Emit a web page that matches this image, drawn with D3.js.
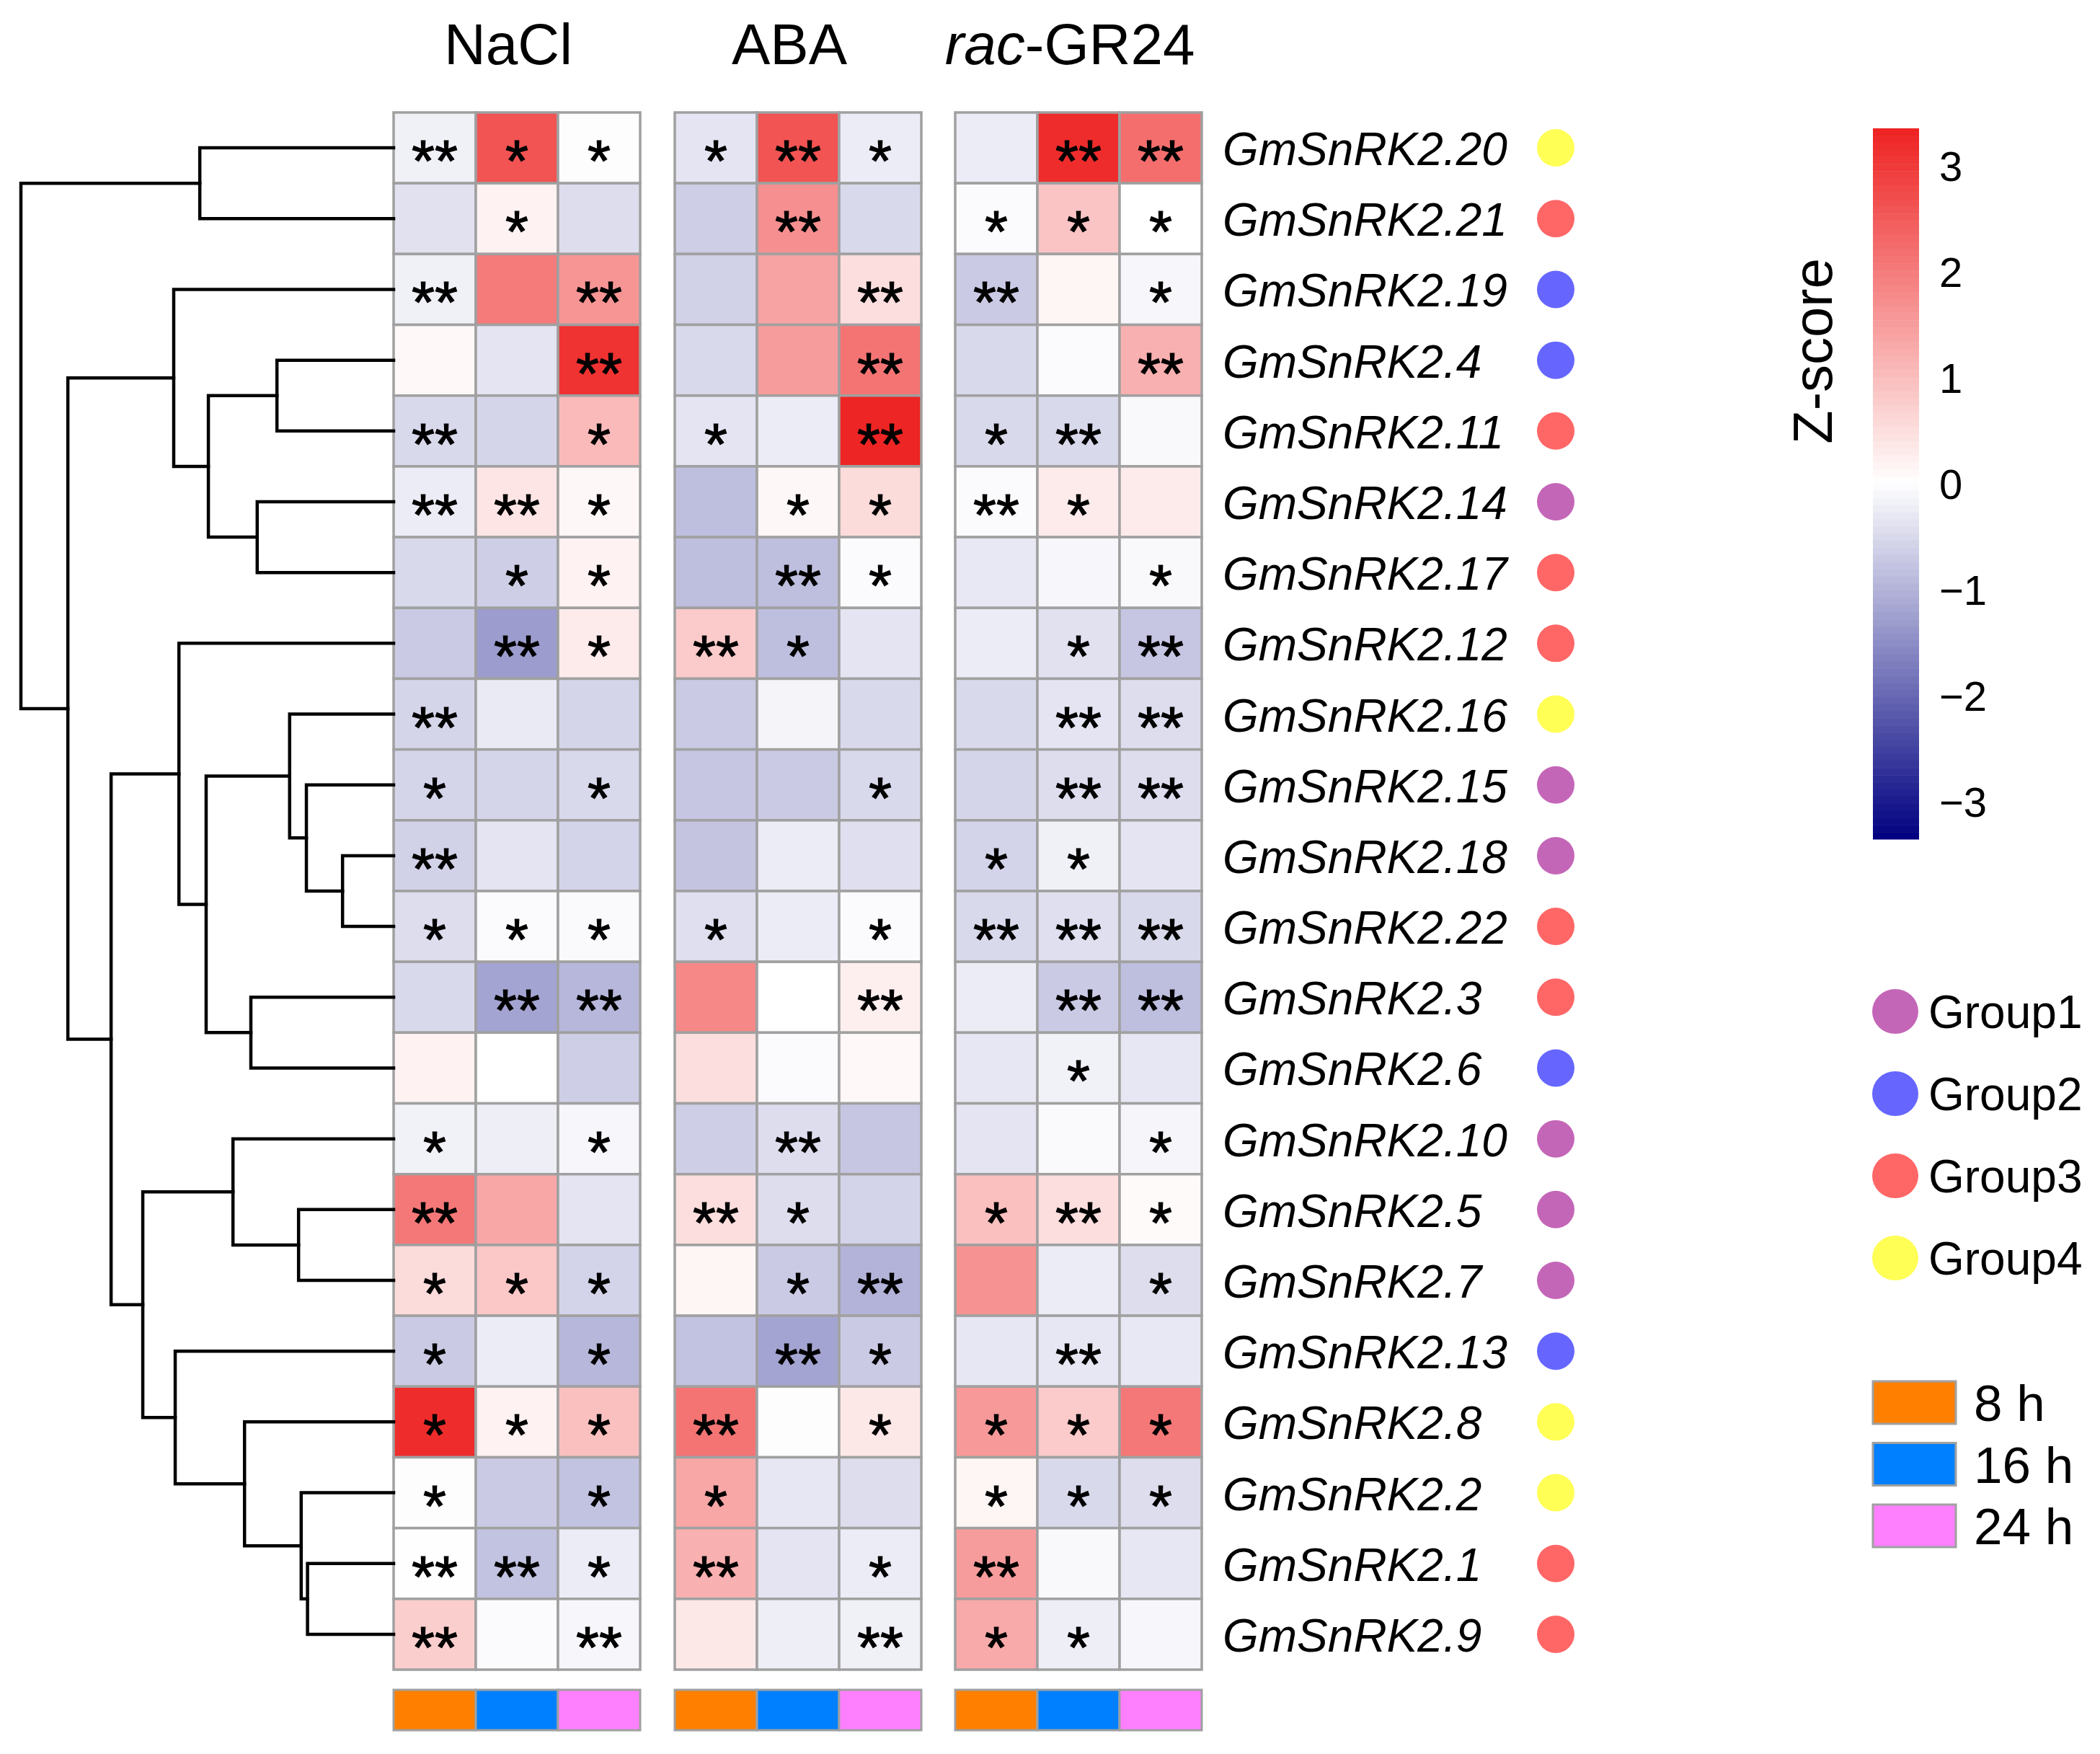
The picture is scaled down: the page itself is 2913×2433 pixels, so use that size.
<!DOCTYPE html>
<html>
<meta charset="utf-8">
<head>
  <title>GmSnRK2 heatmap</title>
  <script src="https://d3js.org/d3.v7.min.js"></script>
  <style>
    body { margin: 0; background: #fff; }
    text { font-family: "Liberation Sans", Arial, Helvetica, sans-serif; }
  </style>
</head>
<body>
<div id="my_dataviz"></div>

<script>

// genes, top to bottom
var genes = ["GmSnRK2.20","GmSnRK2.21","GmSnRK2.19","GmSnRK2.4","GmSnRK2.11","GmSnRK2.14",
  "GmSnRK2.17","GmSnRK2.12","GmSnRK2.16","GmSnRK2.15","GmSnRK2.18","GmSnRK2.22","GmSnRK2.3",
  "GmSnRK2.6","GmSnRK2.10","GmSnRK2.5","GmSnRK2.7","GmSnRK2.13","GmSnRK2.8","GmSnRK2.2",
  "GmSnRK2.1","GmSnRK2.9"];

var treatments = ["NaCl", "ABA", "rac-GR24"];
var times = ["8 h", "16 h", "24 h"];
var timeColors = ["#FF8000", "#0080FF", "#FF80FF"];

// z-scores, one row per gene: 8 h, 16 h, 24 h
var zNaCl = [
  [-0.2, 2.6, -0.02], [-0.4, 0.2, -0.45], [-0.2, 2.0, 1.6], [0.1, -0.35, 3.1],
  [-0.5, -0.55, 1.05], [-0.25, 0.4, 0.12], [-0.5, -0.65, 0.2], [-0.7, -1.3, 0.3],
  [-0.55, -0.28, -0.55], [-0.55, -0.55, -0.5], [-0.6, -0.35, -0.58], [-0.45, -0.05, -0.06],
  [-0.5, -1.2, -0.95], [0.2, 0, -0.65], [-0.18, -0.22, -0.1], [2.05, 1.35, -0.35],
  [0.55, 0.85, -0.58], [-0.7, -0.25, -0.95], [3.2, 0.2, 0.95], [-0.03, -0.7, -0.8],
  [0.02, -0.8, -0.25], [0.75, -0.05, -0.1]
];
var zABA = [
  [-0.35, 2.6, -0.25], [-0.65, 1.7, -0.5], [-0.6, 1.4, 0.5], [-0.5, 1.5, 2.1],
  [-0.35, -0.25, 3.3], [-0.85, 0.12, 0.55], [-0.85, -0.85, -0.05], [0.8, -0.85, -0.35],
  [-0.7, -0.15, -0.5], [-0.75, -0.7, -0.5], [-0.78, -0.25, -0.42], [-0.42, -0.25, -0.05],
  [1.8, 0, 0.25], [0.5, -0.05, 0.1], [-0.65, -0.45, -0.75], [0.5, -0.45, -0.58],
  [0.15, -0.7, -1.0], [-0.8, -1.2, -0.7], [2.1, -0.02, 0.35], [1.35, -0.32, -0.45],
  [1.2, -0.35, -0.25], [0.35, -0.22, -0.2]
];
var zGR24 = [
  [-0.25, 3.2, 2.2], [-0.05, 0.9, 0], [-0.7, 0.15, -0.1], [-0.5, -0.05, 1.2],
  [-0.5, -0.5, -0.08], [-0.05, 0.3, 0.3], [-0.3, -0.1, -0.08], [-0.25, -0.4, -0.75],
  [-0.5, -0.35, -0.45], [-0.55, -0.45, -0.45], [-0.58, -0.2, -0.35], [-0.5, -0.42, -0.5],
  [-0.25, -0.7, -0.85], [-0.32, -0.18, -0.32], [-0.35, -0.06, -0.12], [0.95, 0.5, 0.08],
  [1.65, -0.25, -0.45], [-0.32, -0.32, -0.3], [1.55, 0.8, 2.05], [0.15, -0.5, -0.45],
  [1.5, -0.08, -0.32], [1.3, -0.22, -0.1]
];

// significance marks
var sigNaCl = [
  ["**","*","*"], ["","*",""], ["**","","**"], ["","","**"], ["**","","*"], ["**","**","*"],
  ["","*","*"], ["","**","*"], ["**","",""], ["*","","*"], ["**","",""], ["*","*","*"],
  ["","**","**"], ["","",""], ["*","","*"], ["**","",""], ["*","*","*"], ["*","","*"],
  ["*","*","*"], ["*","","*"], ["**","**","*"], ["**","","**"]
];
var sigABA = [
  ["*","**","*"], ["","**",""], ["","","**"], ["","","**"], ["*","","**"], ["","*","*"],
  ["","**","*"], ["**","*",""], ["","",""], ["","","*"], ["","",""], ["*","","*"],
  ["","","**"], ["","",""], ["","**",""], ["**","*",""], ["","*","**"], ["","**","*"],
  ["**","","*"], ["*","",""], ["**","","*"], ["","","**"]
];
var sigGR24 = [
  ["","**","**"], ["*","*","*"], ["**","","*"], ["","","**"], ["*","**",""], ["**","*",""],
  ["","","*"], ["","*","**"], ["","**","**"], ["","**","**"], ["*","*",""], ["**","**","**"],
  ["","**","**"], ["","*",""], ["","","*"], ["*","**","*"], ["","","*"], ["","**",""],
  ["*","*","*"], ["*","*","*"], ["**","",""], ["*","*",""]
];

// group of each gene (1-4)
var geneGroup = [4,3,2,2,3,1,3,3,4,1,1,3,3,2,1,1,1,2,4,4,3,3];
var groupNames = ["Group1", "Group2", "Group3", "Group4"];
var groupColors = ["#C466B8", "#6666FF", "#FF6666", "#FFFF55"];

// row clustering, hclust style: negative = leaf (1-based row), positive = earlier merge
var merges = [
  [-1, -2, 5.20], [-4, -5, 3.13], [-6, -7, 3.66], [2, 3, 4.97], [-3, 4, 5.90],
  [-11, -12, 1.37], [-10, 6, 2.34], [-9, 7, 2.79], [-13, -14, 3.83], [8, 9, 5.03],
  [-8, 10, 5.76], [-16, -17, 2.55], [-15, 12, 4.31], [-21, -22, 2.31], [-20, 14, 2.48],
  [-19, 15, 4.00], [-18, 16, 5.86], [13, 17, 6.73], [11, 18, 7.58], [5, 19, 8.74],
  [1, 20, 10.0]
];

var colorTicks = [3, 2, 1, 0, -1, -2, -3];
var zMax = 3.35;

// ---------------- layout ----------------
var W = 2913, H = 2433;
var svg = d3.select("#my_dataviz").append("svg")
    .attr("width", W)
    .attr("height", H);

var blockX = [546, 936, 1325];
var blockW = 342;
var rowTop = 156, rowBottom = 2316;

var color = d3.scaleLinear()
    .domain([-zMax, 0, zMax])
    .range(["#000080", "#FFFFFF", "#EE2222"])
    .clamp(true);

var y = d3.scaleBand()
    .domain(d3.range(genes.length))
    .range([rowTop, rowBottom]);

var x = d3.scaleBand()
    .domain(d3.range(3))
    .range([0, blockW]);

var zData = [zNaCl, zABA, zGR24];
var sigData = [sigNaCl, sigABA, sigGR24];

// heatmap blocks
treatments.forEach(function(t, b) {
  var g = svg.append("g").attr("transform", "translate(" + blockX[b] + ",0)");

  var cells = [];
  zData[b].forEach(function(row, i) {
    row.forEach(function(v, j) { cells.push({i: i, j: j, v: v, s: sigData[b][i][j]}); });
  });

  g.selectAll("rect.cell")
    .data(cells)
    .enter().append("rect")
      .attr("class", "cell")
      .attr("x", function(d) { return x(d.j); })
      .attr("y", function(d) { return y(d.i); })
      .attr("width", x.bandwidth())
      .attr("height", y.bandwidth())
      .style("fill", function(d) { return color(d.v); })
      .style("stroke", "#A0A0A0")
      .style("stroke-width", 3.5);

  g.selectAll("text.sig")
    .data(cells.filter(function(d) { return d.s != ""; }))
    .enter().append("text")
      .attr("class", "sig")
      .attr("x", function(d) { return x(d.j) + x.bandwidth() / 2; })
      .attr("y", function(d) { return y(d.i) + y.bandwidth() / 2 + 46; })
      .attr("text-anchor", "middle")
      .style("font-size", "82px")
      .style("stroke", "#000")
      .style("stroke-width", 1.2)
      .text(function(d) { return d.s; });

  // time annotation bar
  g.selectAll("rect.time")
    .data(times)
    .enter().append("rect")
      .attr("class", "time")
      .attr("x", function(d, j) { return x(j); })
      .attr("y", 2344)
      .attr("width", x.bandwidth())
      .attr("height", 56)
      .style("fill", function(d, j) { return timeColors[j]; })
      .style("stroke", "#A0A0A0")
      .style("stroke-width", 3);

  // header
  var head = g.append("text")
    .attr("x", blockW / 2 - 12)
    .attr("y", 89)
    .attr("text-anchor", "middle")
    .style("font-size", "80px");
  if (t == "rac-GR24") {
    head.append("tspan").style("font-style", "italic").text("rac");
    head.append("tspan").text("-GR24");
  } else {
    head.text(t);
  }
});

// gene labels and group dots
svg.append("g").selectAll("text")
  .data(genes)
  .enter().append("text")
    .attr("x", 1696)
    .attr("y", function(d, i) { return y(i) + y.bandwidth() / 2 + 24; })
    .style("font-size", "64px")
    .style("font-style", "italic")
    .text(function(d) { return d; });

svg.append("g").selectAll("circle")
  .data(geneGroup)
  .enter().append("circle")
    .attr("cx", 2158)
    .attr("cy", function(d, i) { return y(i) + y.bandwidth() / 2; })
    .attr("r", 26)
    .style("fill", function(d) { return groupColors[d - 1]; });

// ---------------- dendrogram ----------------
function buildNode(k) {
  if (k < 0) return {leaf: -k - 1, h: 0};
  var m = merges[k - 1];
  return {h: m[2], children: [buildNode(m[0]), buildNode(m[1])]};
}
var root = d3.hierarchy(buildNode(merges.length));

var dx = d3.scaleLinear().domain([0, 10]).range([blockX[0], 29]);

root.eachAfter(function(n) {
  if (n.children) n.py = (n.children[0].py + n.children[1].py) / 2;
  else n.py = y(n.data.leaf) + y.bandwidth() / 2;
});

var dend = svg.append("g")
  .style("stroke", "#000")
  .style("stroke-width", 4.5)
  .style("fill", "none")
  .style("stroke-linecap", "square");

root.descendants().filter(function(n) { return n.children; }).forEach(function(n) {
  var px = dx(n.data.h);
  var path = d3.path();
  var c0 = n.children[0], c1 = n.children[1];
  path.moveTo(dx(c0.data.h), c0.py);
  path.lineTo(px, c0.py);
  path.lineTo(px, c1.py);
  path.lineTo(dx(c1.data.h), c1.py);
  dend.append("path").attr("d", path.toString());
});

// ---------------- colour key ----------------
var keyY = d3.scaleLinear().domain([zMax, -zMax]).range([178, 1164]);
var steps = d3.range(100).map(function(k) { return zMax - (k + 0.5) * 2 * zMax / 100; });
svg.append("g").selectAll("rect")
  .data(steps)
  .enter().append("rect")
    .attr("x", 2598)
    .attr("y", function(d) { return keyY(d + zMax / 100); })
    .attr("width", 64)
    .attr("height", keyY(0) - keyY(2 * zMax / 100) + 0.5)
    .style("fill", function(d) { return color(d); });

svg.append("g").selectAll("text")
  .data(colorTicks)
  .enter().append("text")
    .attr("x", 2690)
    .attr("y", function(d) { return keyY(d) + 21; })
    .style("font-size", "58px")
    .text(function(d) { return d < 0 ? "\u2212" + Math.abs(d) : d; });

svg.append("text")
  .attr("transform", "translate(2541,487) rotate(-90)")
  .attr("text-anchor", "middle")
  .style("font-size", "76px")
  .text("Z-score");

// ---------------- group legend ----------------
var gl = svg.append("g").selectAll("g")
  .data(groupNames)
  .enter().append("g")
    .attr("transform", function(d, i) { return "translate(2629," + (1403 + i * 114) + ")"; });
gl.append("ellipse")
  .attr("rx", 32).attr("ry", 31)
  .style("fill", function(d, i) { return groupColors[i]; });
gl.append("text")
  .attr("x", 46).attr("y", 23)
  .style("font-size", "64px")
  .text(function(d) { return d; });

// ---------------- time legend ----------------
var tl = svg.append("g").selectAll("g")
  .data(times)
  .enter().append("g")
    .attr("transform", function(d, i) { return "translate(2598," + (1916 + i * 85.5) + ")"; });
tl.append("rect")
  .attr("width", 115).attr("height", 59)
  .style("fill", function(d, i) { return timeColors[i]; })
  .style("stroke", "#A0A0A0")
  .style("stroke-width", 3);
tl.append("text")
  .attr("x", 140).attr("y", 55)
  .style("font-size", "71px")
  .text(function(d) { return d; });

</script>
</body>
</html>
